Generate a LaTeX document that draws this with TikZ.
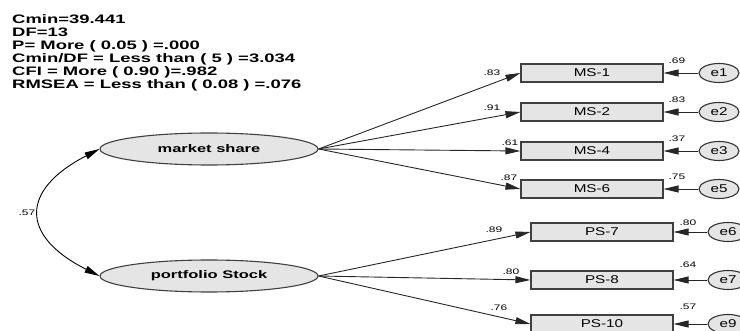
\documentclass[tikz,border=0pt]{standalone}
\usepackage{fontspec}
\setmainfont[FakeStretch=1.5]{Liberation Sans}
\newfontfamily\itemfont[FakeStretch=1.35]{Liberation Sans}
\usetikzlibrary{arrows.meta}
\usetikzlibrary{shapes.geometric}

\begin{document}
\begin{tikzpicture}[x=1pt,y=-1pt,
	latent/.style={draw=black!75,line width=1.1pt,fill=black!10,ellipse,minimum width=218pt,minimum height=32pt,inner sep=0pt,font=\fontsize{11}{13}\selectfont\bfseries},
	item/.style={draw=black!75,line width=1.1pt,fill=black!10,minimum width=142pt,minimum height=18pt,inner sep=0pt,font=\itemfont\fontsize{11.3}{13}\selectfont},
	err/.style={draw=black!80,line width=1.1pt,fill=black!10,ellipse,minimum width=40pt,minimum height=19pt,inner sep=0pt,font=\itemfont\fontsize{11.3}{13}\selectfont},
	stat/.style={anchor=base west,inner sep=0pt,font=\fontsize{12.3}{14}\selectfont\bfseries},
	coef/.style={inner sep=0pt,font=\fontsize{8}{9}\selectfont},
	path/.style={draw=black!85,line width=0.9pt,-{Triangle[length=15pt,width=7pt]}},
	cov/.style={line width=0.9pt,{Triangle[length=15pt,width=7pt]}-{Triangle[length=15pt,width=7pt]}}]
	\useasboundingbox (0,0) rectangle (740,331);
	\foreach \stat [count=\i from 0] in {Cmin=39.441, DF=13, P= More ( 0.05 ) =.000, Cmin/DF = Less than ( 5 ) =3.034, CFI = More ( 0.90 )=.982, RMSEA = Less than ( 0.08 ) =.076} {
		\node[stat] (s\i) at (12,{23.5+13*\i}) {\stat};
	}
	\node[latent] (ms) at (209,149) {market share};
	\node[latent] (ps) at (209,276) {portfolio Stock};
	\draw[cov] (ms.west) .. controls (20,190) and (20,236) .. (ps.west);
	\node[coef] (r) at (27,213) {.57};
	\foreach \n/\txt/\y/\e in {ms1/MS-1/73/e1, ms2/MS-2/112/e2, ms4/MS-4/151/e3, ms6/MS-6/189/e5} {
		\node[item] (\n) at (592,\y) {\txt};
		\node[err] (\e) at (719,\y) {\e};
		\draw[path] (ms.east) -- (\n.west);
		\draw[path] (\e.west) -- (\n.east);
	}
	\foreach \n/\txt/\y/\e in {ps7/PS-7/232/e6, ps8/PS-8/280/e7, ps10/PS-10/324/e9} {
		\node[item] (\n) at (602,\y) {\txt};
		\node[err] (\e) at (728,\y) {\e};
		\draw[path] (ps.east) -- (\n.west);
		\draw[path] (\e.west) -- (\n.east);
	}
	\foreach \x/\y/\v [count=\i] in {492/73/.83, 492/108/.91, 510/143/.61, 509/178/.87, 494/230/.89, 511/272/.80, 499/308/.76} {
		\node[coef] (l\i) at (\x,\y) {\v};
	}
	\foreach \x/\y/\v [count=\i] in {677/61/.69, 677/100/.83, 677/139/.37, 677/177/.75, 688/223/.80, 688/265/.64, 688/307/.57} {
		\node[coef] (v\i) at (\x,\y) {\v};
	}
\end{tikzpicture}
\end{document}
